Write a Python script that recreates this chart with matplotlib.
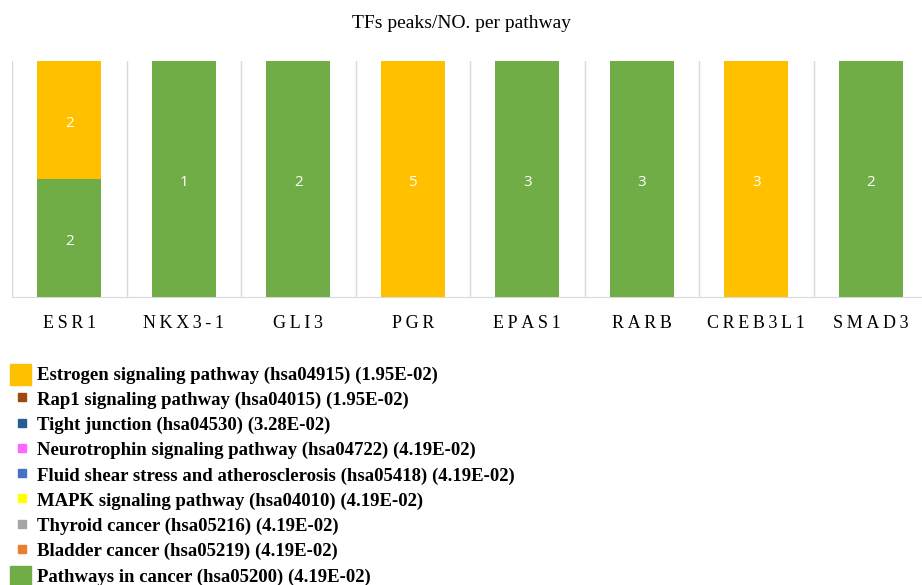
import numpy as np
import matplotlib
matplotlib.use("Agg")
import matplotlib.pyplot as plt
from matplotlib.patches import Rectangle

genes = ["ESR1", "NKX3-1", "GLI3", "PGR", "EPAS1", "RARB", "CREB3L1", "SMAD3"]

pathways = [
    "Estrogen signaling pathway (hsa04915) (1.95E-02)",
    "Rap1 signaling pathway (hsa04015) (1.95E-02)",
    "Tight junction (hsa04530) (3.28E-02)",
    "Neurotrophin signaling pathway (hsa04722) (4.19E-02)",
    "Fluid shear stress and atherosclerosis (hsa05418) (4.19E-02)",
    "MAPK signaling pathway (hsa04010) (4.19E-02)",
    "Thyroid cancer (hsa05216) (4.19E-02)",
    "Bladder cancer (hsa05219) (4.19E-02)",
    "Pathways in cancer (hsa05200) (4.19E-02)",
]
colors = ["#FFC000", "#9E480E", "#255E91", "#FF66FF", "#4472C4",
          "#FFFF00", "#A5A5A5", "#ED7D31", "#70AD47"]

# peaks per gene for each pathway (only two pathways have visible counts)
estrogen = [2, 0, 0, 5, 0, 0, 3, 0]
rap1 = [0, 0, 0, 0, 0, 0, 0, 0]
tight = [0, 0, 0, 0, 0, 0, 0, 0]
neurotrophin = [0, 0, 0, 0, 0, 0, 0, 0]
fluid = [0, 0, 0, 0, 0, 0, 0, 0]
mapk = [0, 0, 0, 0, 0, 0, 0, 0]
thyroid = [0, 0, 0, 0, 0, 0, 0, 0]
bladder = [0, 0, 0, 0, 0, 0, 0, 0]
cancer = [2, 1, 2, 0, 3, 3, 0, 2]

series = [estrogen, rap1, tight, neurotrophin, fluid, mapk, thyroid, bladder, cancer]

data = np.array(series, dtype=float)
totals = data.sum(axis=0)
frac = data / totals

fig = plt.figure(figsize=(9.22, 5.85), dpi=100)
ax = fig.add_axes([12 / 922, 1 - 297 / 585, 916 / 922, 236 / 585])

x = np.arange(len(genes))
width = 0.56
bottom = np.zeros(len(genes))
# draw bottom-up: pathways in cancer first, then the rest in reverse
order = list(range(len(series)))[::-1]
for i in order:
    bars = ax.bar(x, frac[i], width, bottom=bottom, color=colors[i], zorder=3)
    for j, rect in enumerate(bars):
        if data[i][j] > 0:
            ax.text(rect.get_x() + rect.get_width() / 2, bottom[j] + frac[i][j] / 2 - 0.015,
                    "%d" % data[i][j], ha="center", va="center", color="white",
                    fontsize=11, family="Open Sans", zorder=4)
    bottom += frac[i]

ax.set_xlim(-0.5, len(genes) - 0.5)
ax.set_ylim(0, 1)
ax.set_yticks([])
ax.set_xticks(x)
ax.set_xticklabels(["\u2009".join(g) for g in genes], family="Liberation Serif", fontsize=13)
ax.tick_params(axis="x", length=0, pad=13)
ax.set_xticks(np.arange(len(genes) + 1) - 0.5, minor=True)
ax.tick_params(axis="x", which="minor", length=0)
ax.grid(axis="x", which="minor", color="#D9D9D9", linewidth=1, zorder=0)
for s in ["top", "right", "left"]:
    ax.spines[s].set_visible(False)
ax.spines["bottom"].set_color("#D9D9D9")

fig.text(0.5, 1 - 23 / 585, "TFs peaks/NO. per pathway", ha="center", va="center",
         family="Liberation Serif", fontsize=14)

# legend drawn by hand, big squares for the two pathways with data
y0 = 375
step = 25.25
for k, name in enumerate(pathways):
    yc = y0 + k * step
    if k == 0 or k == len(pathways) - 1:
        size = 21
        x0 = 10
        yc_box = yc - 1
    else:
        size = 8
        x0 = 18
        yc_box = yc - 3
    fig.add_artist(Rectangle((x0 / 922, 1 - (yc_box + size / 2) / 585), size / 922, size / 585,
                             transform=fig.transFigure, color=colors[k]))
    fig.text(37 / 922, 1 - yc / 585, name, ha="left", va="center",
             family="Liberation Serif", fontweight="bold", fontsize=13.5)

fig.savefig("out.png", dpi=100)
